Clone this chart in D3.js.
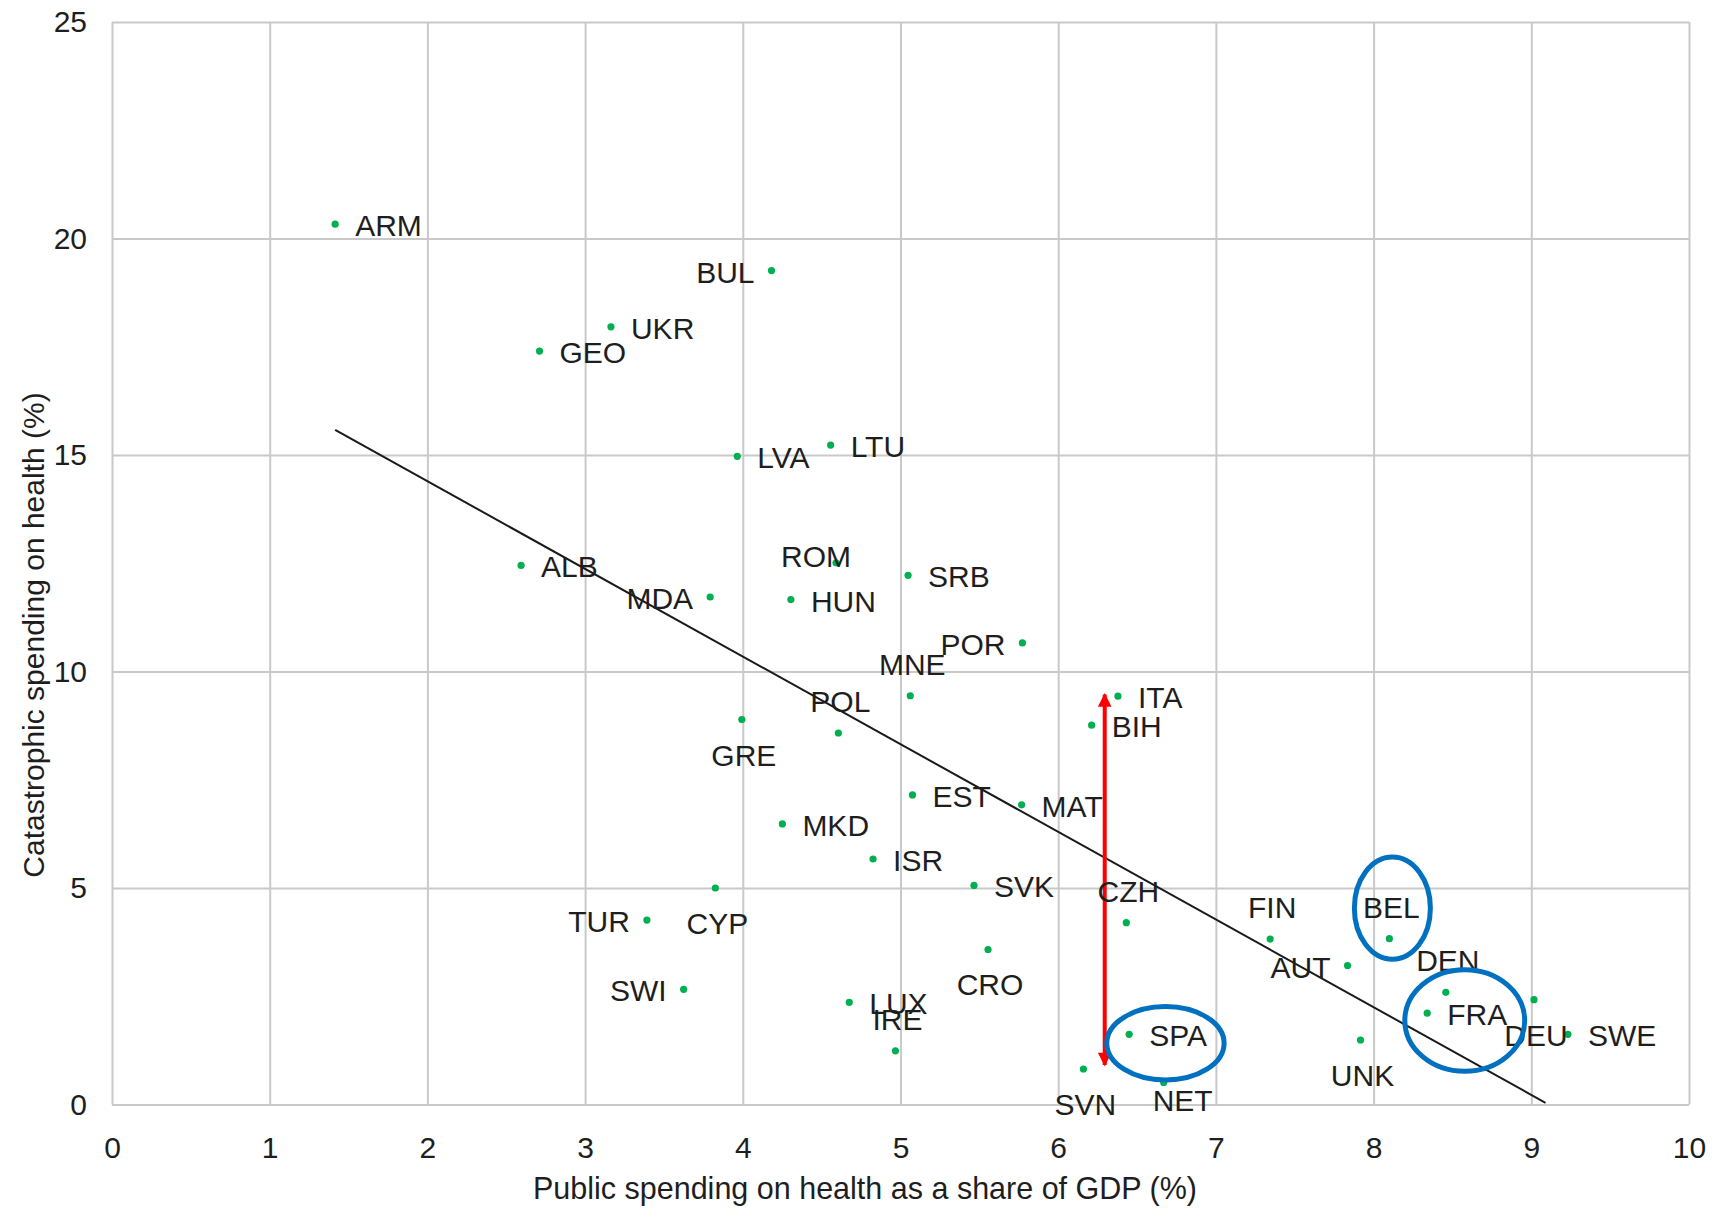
<!DOCTYPE html>
<html>
<head>
<meta charset="utf-8">
<script src="https://cdn.jsdelivr.net/npm/d3@7"></script>
<style>
  html, body { margin: 0; padding: 0; background: #fff; }
  svg { display: block; font-family: "Liberation Sans", Arial, Helvetica, sans-serif; }
</style>
</head>
<body>
<script>
// ---------------- DATA ----------------
const countries = ["ARM","BUL","UKR","GEO","LVA","LTU","ALB","MDA","ROM","HUN",
                   "SRB","POR","MNE","GRE","POL","EST","ITA","BIH","MAT","CZH",
                   "FIN","AUT","BEL","DEN","FRA","DEU","SWE","UNK","SPA","SVN",
                   "NET","MKD","ISR","CYP","TUR","SWI","LUX","IRE","SVK","CRO"];
// Public spending on health as a share of GDP (%)
const publicSpending = [1.415,4.182,3.164,2.711,3.965,4.557,2.594,3.793,4.591,4.305,
                        5.048,5.773,5.062,3.994,4.606,5.076,6.379,6.212,5.768,6.432,
                        7.344,7.835,8.100,8.458,8.340,9.017,9.232,7.917,6.450,6.160,
                        6.669,4.251,4.826,3.826,3.392,3.625,4.675,4.968,5.466,5.555];
// Catastrophic spending on health (%)
const catastrophic = [20.33,19.26,17.96,17.40,14.97,15.23,12.45,11.72,12.51,11.66,
                      12.22,10.66,9.44,8.89,8.58,7.15,9.43,8.76,6.92,4.20,
                      3.82,3.21,3.83,2.59,2.11,2.42,1.62,1.49,1.62,0.82,
                      0.51,6.48,5.67,5.00,4.26,2.66,2.36,1.24,5.06,3.58];
const xTicks = [0,1,2,3,4,5,6,7,8,9,10];
const yTicks = [0,5,10,15,20,25];
// Linear trend line end points
const trendX = [1.415, 9.09];
const trendY = [15.58, 0.04];
// Red double arrow (x, y from, y to)
const arrowX = [6.295];
const arrowY = [0.91, 9.47];
// Highlight ellipses: centre and half-extent in data units
const ellipseCx = [8.119, 8.578, 6.68];
const ellipseCy = [4.535, 1.94, 1.415];
const ellipseRx = [0.241, 0.380, 0.372];
const ellipseRy = [1.179, 1.174, 0.848];
const xTitle = "Public spending on health as a share of GDP (%)";
const yTitle = "Catastrophic spending on health (%)";

// ---------------- LAYOUT (label placement) ----------------
const placement = {
  ARM:"right", BUL:"left", UKR:"right", GEO:"right", LVA:"right", LTU:"right",
  ALB:"right", MDA:"left", ROM:"rom", HUN:"right", SRB:"right", POR:"left",
  MNE:"above", GRE:"below", POL:"above", EST:"right", ITA:"right", BIH:"right",
  MAT:"right", CZH:"above", FIN:"above", AUT:"left", BEL:"above", DEN:"above",
  FRA:"right", DEU:"below", SWE:"right", UNK:"below", SPA:"right", SVN:"below",
  NET:"net", MKD:"right", ISR:"right", CYP:"below", TUR:"left", SWI:"left",
  LUX:"right", IRE:"above", SVK:"right", CRO:"below"
};
const placeSpec = {
  right: {anchor:"start",  dx: 20,  dy: 12},
  left:  {anchor:"end",    dx: -17, dy: 12},
  above: {anchor:"middle", dx: 2,   dy: -21},
  below: {anchor:"middle", dx: 2,   dy: 46},
  rom:   {anchor:"middle", dx: -20, dy: 4},
  net:   {anchor:"middle", dx: 19,  dy: 29}
};

// ---------------- CHART ----------------
const W = 1723, H = 1209;
const plot = {left: 112, right: 1689, top: 22, bottom: 1104.5};

const svg = d3.select("body").append("svg")
  .attr("width", W).attr("height", H);
svg.append("rect").attr("width", W).attr("height", H).attr("fill", "#fff");

const x = d3.scaleLinear().domain([0, 10]).range([plot.left, plot.right]);
const y = d3.scaleLinear().domain([0, 25]).range([plot.bottom, plot.top]);

const gridColor = "#c9c9c9";
const textColor = "#1e1e1e";

// X axis with vertical gridlines
const gx = svg.append("g")
  .attr("transform", `translate(0,${plot.bottom})`)
  .call(d3.axisBottom(x).tickValues(xTicks).tickFormat(d3.format("d"))
        .tickSize(-(plot.bottom - plot.top)).tickPadding(32));
gx.select(".domain").remove();
gx.selectAll(".tick line").attr("stroke", gridColor).attr("stroke-width", 2);
gx.selectAll(".tick text").attr("font-size", 30).attr("fill", textColor)
  .attr("font-family", "Liberation Sans, Arial, sans-serif");

// Y axis with horizontal gridlines
const gy = svg.append("g")
  .attr("transform", `translate(${plot.left},0)`)
  .call(d3.axisLeft(y).tickValues(yTicks).tickFormat(d3.format("d"))
        .tickSize(-(plot.right - plot.left)).tickPadding(25));
gy.select(".domain").remove();
gy.selectAll(".tick line").attr("stroke", gridColor).attr("stroke-width", 2);
gy.selectAll(".tick text").attr("font-size", 30).attr("fill", textColor)
  .attr("font-family", "Liberation Sans, Arial, sans-serif");

// Trend line
svg.append("line")
  .attr("x1", x(trendX[0])).attr("y1", y(trendY[0]))
  .attr("x2", x(trendX[1])).attr("y2", y(trendY[1]))
  .attr("stroke", "#1a1a1a").attr("stroke-width", 2);

// Red double arrow
const defs = svg.append("defs");
["start","end"].forEach(k => {
  defs.append("marker")
    .attr("id", "arrow-" + k)
    .attr("viewBox", "0 0 10 10")
    .attr("refX", 9).attr("refY", 5)
    .attr("markerWidth", 4).attr("markerHeight", 3.4)
    .attr("markerUnits", "strokeWidth")
    .attr("orient", k === "end" ? "auto" : "auto-start-reverse")
    .append("path").attr("d", "M0,0 L10,5 L0,10 Z").attr("fill", "#ff0000");
});
svg.append("line")
  .attr("x1", x(arrowX[0])).attr("y1", y(arrowY[0]))
  .attr("x2", x(arrowX[0])).attr("y2", y(arrowY[1]))
  .attr("stroke", "#ff0000").attr("stroke-width", 4)
  .attr("marker-start", "url(#arrow-start)")
  .attr("marker-end", "url(#arrow-end)");

// Points
const pts = countries.map((c, i) => ({c, xv: publicSpending[i], yv: catastrophic[i]}));
svg.append("g").selectAll("circle").data(pts).join("circle")
  .attr("cx", d => x(d.xv)).attr("cy", d => y(d.yv))
  .attr("r", 3.6).attr("fill", "#00b050");

// Labels
svg.append("g").selectAll("text").data(pts).join("text")
  .attr("x", d => x(d.xv) + placeSpec[placement[d.c]].dx)
  .attr("y", d => y(d.yv) + placeSpec[placement[d.c]].dy)
  .attr("text-anchor", d => placeSpec[placement[d.c]].anchor)
  .attr("font-size", 30).attr("fill", textColor)
  .text(d => d.c);

// Highlight ellipses
const ell = ellipseCx.map((cx, i) => ({cx, cy: ellipseCy[i], rx: ellipseRx[i], ry: ellipseRy[i]}));
svg.append("g").selectAll("ellipse").data(ell).join("ellipse")
  .attr("cx", d => x(d.cx)).attr("cy", d => y(d.cy))
  .attr("rx", d => x(d.cx + d.rx) - x(d.cx))
  .attr("ry", d => y(d.cy) - y(d.cy + d.ry))
  .attr("fill", "none").attr("stroke", "#0070c0").attr("stroke-width", 5);

// Axis titles
svg.append("text")
  .attr("x", 865).attr("y", 1199)
  .attr("text-anchor", "middle").attr("font-size", 30.5).attr("fill", textColor)
  .text(xTitle);
svg.append("text")
  .attr("transform", "translate(43.5,635) rotate(-90)")
  .attr("text-anchor", "middle").attr("font-size", 30).attr("fill", textColor)
  .text(yTitle);
</script>
</body>
</html>
